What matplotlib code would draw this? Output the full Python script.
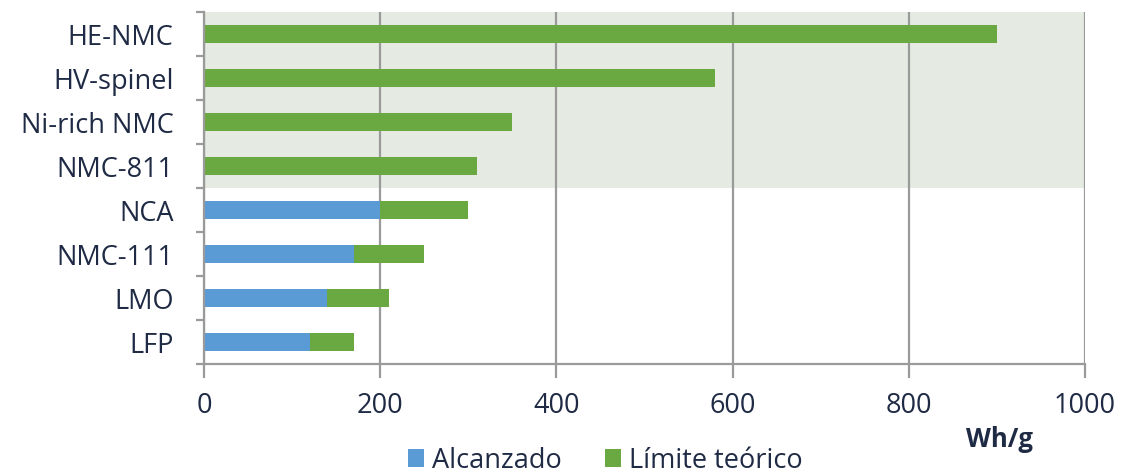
import matplotlib.pyplot as plt
import numpy as np

plt.rcParams['font.family'] = ['Open Sans', 'DejaVu Sans']

# categories listed bottom to top
materials = ['LFP', 'LMO', 'NMC-111', 'NCA', 'NMC-811', 'Ni-rich NMC', 'HV-spinel', 'HE-NMC']
alcanzado = [120, 140, 170, 200, 0, 0, 0, 0]
limite_total = [170, 210, 250, 300, 310, 350, 580, 900]
limite_extra = [t - a for t, a in zip(limite_total, alcanzado)]

blue = '#5b9bd5'
green = '#6aa842'
text_col = '#1f2a44'
grid_col = '#9a9a9a'
fs = 19.5

fig = plt.figure(figsize=(11.23, 4.73), dpi=100)
ax = fig.add_axes([0.1817, 0.2304, 0.7845, 0.7442])

y = np.arange(len(materials))
# shaded band behind the new-generation cathodes
ax.axhspan(3.5, 7.55, color='#e5ebe3', zorder=0, lw=0)

ax.barh(y, alcanzado, height=0.39, color=blue, zorder=3, label='Alcanzado')
ax.barh(y, limite_extra, left=alcanzado, height=0.39, color=green, zorder=3, label='Límite teórico')

ax.set_xlim(0, 1000)
ax.set_ylim(-0.5, 7.5)
ax.set_xticks(np.arange(0, 1001, 200))
ax.set_yticks(y)
ax.set_yticklabels(materials)
ax.set_yticks(np.arange(-0.5, 8, 1), minor=True)

ax.grid(axis='x', color=grid_col, lw=1.6, zorder=1)
ax.grid(axis='y', visible=False)
for s in ['top', 'right']:
    ax.spines[s].set_visible(False)
for s in ['left', 'bottom']:
    ax.spines[s].set_color(grid_col)
    ax.spines[s].set_linewidth(1.6)
ax.spines['left'].set_zorder(4)

ax.tick_params(axis='y', which='major', length=0, pad=22, labelsize=fs, labelcolor=text_col)
ax.tick_params(axis='y', which='minor', length=6, width=1.6, color=grid_col, direction='out')
ax.tick_params(axis='x', length=10, width=1.6, color=grid_col, pad=10, labelsize=fs, labelcolor=text_col)

fig.text(0.89, 0.07, 'Wh/g', fontsize=fs - 1, fontweight='bold', color=text_col, ha='center', va='center')

fig.legend(loc='lower center', bbox_to_anchor=(0.539, -0.055), ncol=2, frameon=False,
           fontsize=fs, handlelength=0.6, handleheight=0.6, handletextpad=0.3,
           columnspacing=1.6, labelcolor=text_col)

fig.savefig('out.png', dpi=100)
